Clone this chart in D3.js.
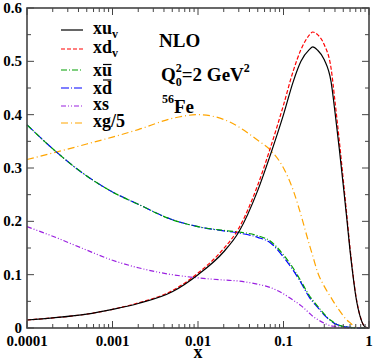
<!DOCTYPE html>
<html>
<head>
<meta charset="utf-8">
<script src="https://cdn.jsdelivr.net/npm/d3@7"></script>
<style>
  body { margin: 0; background: #fff; }
  svg { display: block; font-family: "Liberation Serif", "DejaVu Serif", serif; font-weight: bold; }
</style>
</head>
<body>
<div id="vis"></div>
<script>
// momentum fractions sampled along x
const xGrid = [1e-4, 2e-4, 5e-4, 1e-3, 2e-3, 5e-3, 0.01, 0.02, 0.03, 0.05, 0.07, 0.1, 0.13, 0.16, 0.2, 0.22, 0.25, 0.3, 0.36, 0.4, 0.45, 0.5, 0.55, 0.6, 0.65, 0.7, 0.8, 0.9, 1.0];

const xuv  = [0.015, 0.019, 0.026, 0.035, 0.046, 0.068, 0.100, 0.143, 0.180, 0.258, 0.324, 0.400, 0.462, 0.500, 0.522, 0.527, 0.521, 0.503, 0.462, 0.405, 0.335, 0.268, 0.205, 0.145, 0.098, 0.060, 0.018, 0.002, 0];
const xdv  = [0.015, 0.019, 0.026, 0.035, 0.047, 0.070, 0.103, 0.149, 0.187, 0.268, 0.337, 0.418, 0.482, 0.522, 0.549, 0.555, 0.550, 0.531, 0.487, 0.425, 0.350, 0.278, 0.212, 0.150, 0.101, 0.062, 0.019, 0.002, 0];
const xubar = [0.381, 0.336, 0.285, 0.255, 0.232, 0.203, 0.190, 0.183, 0.180, 0.173, 0.163, 0.137, 0.112, 0.088, 0.061, 0.052, 0.041, 0.026, 0.014, 0.009, 0.005, 0.003, 0.002, 0.001, 0.0005, 0, 0, 0, 0];
const xdbar = [0.381, 0.336, 0.285, 0.255, 0.232, 0.203, 0.190, 0.182, 0.178, 0.170, 0.160, 0.133, 0.108, 0.085, 0.058, 0.049, 0.039, 0.024, 0.013, 0.008, 0.005, 0.003, 0.002, 0.001, 0.0005, 0, 0, 0, 0];
const xsea = [0.190, 0.172, 0.146, 0.127, 0.113, 0.100, 0.094, 0.090, 0.088, 0.082, 0.076, 0.064, 0.052, 0.042, 0.028, 0.022, 0.016, 0.009, 0.004, 0.003, 0.002, 0.001, 0.0005, 0, 0, 0, 0, 0, 0];
const xg5  = [0.316, 0.328, 0.345, 0.358, 0.372, 0.393, 0.400, 0.391, 0.377, 0.352, 0.334, 0.300, 0.258, 0.212, 0.157, 0.135, 0.105, 0.078, 0.057, 0.045, 0.033, 0.023, 0.015, 0.010, 0.005, 0.002, 0, 0, 0];

const yTicks = [0, 0.1, 0.2, 0.3, 0.4, 0.5, 0.6];
const xTicks = [1e-4, 1e-3, 1e-2, 1e-1, 1];
const xTickLabels = ["0.0001", "0.001", "0.01", "0.1", "1"];

const series = [
  { name: "xu", sub: "v", values: xuv, color: "#000000", dash: null },
  { name: "xd", sub: "v", values: xdv, color: "#ff0000", dash: "4,2" },
  { name: "xu", bar: 11, values: xubar, color: "#00a000", dash: "6,2,1,2" },
  { name: "xd", bar: 13.5, values: xdbar, color: "#0000ff", dash: "8,2,1,2" },
  { name: "xs", values: xsea, color: "#9a20e0", dash: "5,2,1,2,1,2" },
  { name: "xg/5", values: xg5, color: "#ffa500", dash: "7,3,1,3" }
];

const W = 374, H = 362;
const margin = { top: 8, right: 5, bottom: 34, left: 27 };

const svg = d3.select("#vis").append("svg")
  .attr("width", W).attr("height", H);

const x = d3.scaleLog().domain([1e-4, 1]).range([margin.left, W - margin.right]);
const y = d3.scaleLinear().domain([0, 0.6]).range([H - margin.bottom, margin.top]);

const line = d3.line()
  .x(d => x(d[0]))
  .y(d => y(d[1]))
  .curve(d3.curveMonotoneX);

// curves (drawn in reverse so black sits on top)
const plot = svg.append("g");
series.slice().reverse().forEach(s => {
  plot.append("path")
    .datum(xGrid.map((v, i) => [v, s.values[i]]))
    .attr("fill", "none")
    .attr("stroke", s.color)
    .attr("stroke-width", 1.2)
    .attr("stroke-dasharray", s.dash)
    .attr("d", line);
});

// frame and ticks
const frameColor = "#444";
const minorX = [];
for (let d = 1e-4; d < 1; d *= 10) for (let k = 2; k <= 9; k++) minorX.push(d * k);
const minorY = d3.range(0.05, 0.6, 0.1);

const axes = svg.append("g").attr("stroke", frameColor).attr("stroke-width", 1);
const y0 = y(0), y1 = y(0.6), x0 = x(1e-4), x1 = x(1);

xTicks.forEach(t => {
  axes.append("line").attr("x1", x(t)).attr("x2", x(t)).attr("y1", y0).attr("y2", y0 - 7);
  axes.append("line").attr("x1", x(t)).attr("x2", x(t)).attr("y1", y1).attr("y2", y1 + 7);
});
minorX.forEach(t => {
  axes.append("line").attr("x1", x(t)).attr("x2", x(t)).attr("y1", y0).attr("y2", y0 - 4);
  axes.append("line").attr("x1", x(t)).attr("x2", x(t)).attr("y1", y1).attr("y2", y1 + 4);
});
yTicks.forEach(t => {
  axes.append("line").attr("x1", x0).attr("x2", x0 + 7).attr("y1", y(t)).attr("y2", y(t));
  axes.append("line").attr("x1", x1).attr("x2", x1 - 7).attr("y1", y(t)).attr("y2", y(t));
});
minorY.forEach(t => {
  axes.append("line").attr("x1", x0).attr("x2", x0 + 4).attr("y1", y(t)).attr("y2", y(t));
  axes.append("line").attr("x1", x1).attr("x2", x1 - 4).attr("y1", y(t)).attr("y2", y(t));
});
svg.append("rect")
  .attr("x", x0).attr("y", y1)
  .attr("width", x1 - x0).attr("height", y0 - y1)
  .attr("fill", "none").attr("stroke", frameColor).attr("stroke-width", 1.6);

// tick labels
svg.append("g").selectAll("text").data(yTicks).join("text")
  .attr("x", x0 - 5).attr("y", d => y(d) + 5)
  .attr("text-anchor", "end").attr("font-size", 15)
  .text(d => d === 0 ? "0" : d.toFixed(1));

svg.append("g").selectAll("text").data(xTicks).join("text")
  .attr("x", d => x(d)).attr("y", y0 + 18)
  .attr("text-anchor", "middle").attr("font-size", 15)
  .text((d, i) => xTickLabels[i]);

svg.append("text")
  .attr("x", x(0.01)).attr("y", 358)
  .attr("text-anchor", "middle").attr("font-size", 18)
  .text("x");

// legend
const legendY = [30, 49, 70, 88, 106, 123];
const legend = svg.append("g");
series.forEach((s, i) => {
  const g = legend.append("g").attr("transform", `translate(0,${legendY[i]})`);
  g.append("line")
    .attr("x1", 61).attr("x2", 83).attr("y1", 0).attr("y2", 0)
    .attr("stroke", s.color).attr("stroke-width", 1.2)
    .attr("stroke-dasharray", s.dash);
  const ty = s.bar ? 5.5 : 4;
  const t = g.append("text").attr("x", 93).attr("y", ty).attr("font-size", 18);
  t.append("tspan").text(s.name);
  if (s.sub) t.append("tspan").attr("font-size", 12).attr("dy", 4).text(s.sub);
  if (s.bar) {
    // bar over the antiquark letter
    const node = t.node();
    const start = node.getSubStringLength(0, 1);
    const w = node.getSubStringLength(1, 1);
    g.append("line")
      .attr("x1", 93 + start + 1).attr("x2", 93 + start + w - 0.5)
      .attr("y1", ty - s.bar).attr("y2", ty - s.bar)
      .attr("stroke", "#000").attr("stroke-width", 1.2);
  }
});

// annotations
svg.append("text").attr("x", 159).attr("y", 47).attr("font-size", 19).text("NLO");

const q = svg.append("text").attr("x", 161).attr("y", 81).attr("font-size", 19);
q.append("tspan").text("Q");
q.append("tspan").attr("font-size", 12).attr("dy", 5).text("0");
q.append("tspan").attr("font-size", 12).attr("dx", -6).attr("dy", -14).text("2");
q.append("tspan").attr("dy", 9).text("=2 GeV");
q.append("tspan").attr("font-size", 12).attr("dy", -9).text("2");

const fe = svg.append("text").attr("x", 162).attr("y", 113).attr("font-size", 19);
fe.append("tspan").attr("font-size", 12).attr("dy", -10).text("56");
fe.append("tspan").attr("dy", 10).text("Fe");
</script>
</body>
</html>
